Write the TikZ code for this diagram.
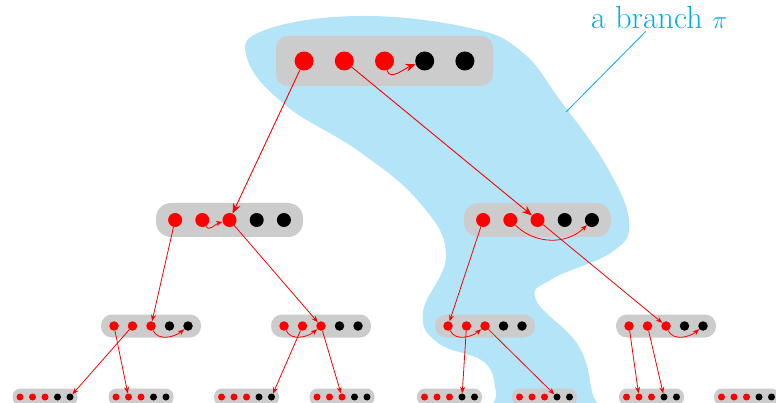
\documentclass[tikz,border=0pt]{standalone}
\usetikzlibrary{positioning}
\usetikzlibrary{arrows.meta}
\definecolor{branchblue}{RGB}{179,228,248}
\definecolor{labelcyan}{RGB}{0,174,239}
\definecolor{boxgray}{RGB}{204,204,204}

% one state: a gray bar with five dots (3 red, 2 black)
\newcommand{\pstate}[5]{%
    \node[box#5] (#1) at (#2,#3) {};
    \foreach \k/\c in {1/red, 2/red, 3/red, 4/black, 5/black} {
        \node[dot#5, fill=\c] (#1-\k) at ({#2+(\k-3)*#4}, #3) {};
    }
}

\tikzset{
    boxbase/.style={fill=boxgray, draw=none, inner sep=0pt},
    dotbase/.style={circle, draw=none, inner sep=0pt},
    boxtop/.style={boxbase, minimum width=217pt, minimum height=50pt, rounded corners=12pt},
    boxmid/.style={boxbase, minimum width=147pt, minimum height=34pt, rounded corners=15pt},
    boxlow/.style={boxbase, minimum width=100pt, minimum height=23pt, rounded corners=11pt},
    boxleaf/.style={boxbase, minimum width=65pt, minimum height=17pt, rounded corners=8pt},
    dottop/.style={dotbase, minimum size=19pt},
    dotmid/.style={dotbase, minimum size=14pt},
    dotlow/.style={dotbase, minimum size=9.5pt},
    dotleaf/.style={dotbase, minimum size=7pt},
    linkbig/.style={red, line width=0.9pt, -{Stealth[length=10pt, width=8pt]}},
    link/.style={red, line width=0.8pt, -{Stealth[length=6.5pt, width=5pt]}},
    leader/.style={labelcyan, line width=0.8pt}
}

\begin{document}
\begin{tikzpicture}[x=1pt, y=-1pt]
    \clip (0,0) rectangle (776,403);

    % the branch
    \fill[branchblue] plot[smooth cycle, tension=0.7] coordinates {
        (247,58) (265,30) (360,16) (470,28) (522,52) (560,100)
        (607,167) (629,222) (612,252) (552,279) (536,300)
        (578,345) (592,392) (594,420) (498,420) (496,392)
        (484,362) (438,343) (423,312) (446,255)
        (420,203) (360,152) (285,105)};

    \node[labelcyan, font=\fontsize{32}{36}\selectfont, inner sep=2pt] (lab) at (659,18) {a branch $\pi$};
    \coordinate (tip) at (566,112);
    \draw[leader] (lab) -- (tip);

    % levels
    \pstate{t}{384.5}{61}{40.2}{top}
    \pstate{a}{229.5}{220}{27.2}{mid}
    \pstate{b}{537.5}{220}{27.2}{mid}
    \pstate{c}{151}{326}{18.5}{low}
    \pstate{d}{321}{326}{18.5}{low}
    \pstate{e}{485}{326}{18.5}{low}
    \pstate{f}{666}{326}{18.5}{low}
    \pstate{g}{45}{397}{12.5}{leaf}
    \pstate{h}{141}{397}{12.5}{leaf}
    \pstate{i}{246.5}{397}{12.5}{leaf}
    \pstate{j}{342}{397}{12.5}{leaf}
    \pstate{k}{449.5}{397}{12.5}{leaf}
    \pstate{l}{544.5}{397}{12.5}{leaf}
    \pstate{m}{651.5}{397}{12.5}{leaf}
    \pstate{n}{746.5}{397}{12.5}{leaf}

    % top
    \draw[linkbig] (t-1) -- (a-3);
    \draw[linkbig] (t-2) -- (b-3);
    \draw[linkbig] (t-3) to[out=-75, in=-160] (t-4);

    % second level
    \draw[link] (a-1) -- (c-3);
    \draw[link] (a-2) to[out=-60, in=-165] (a-3);
    \draw[link] (a-3) -- (d-3);
    \draw[link] (b-1) -- (e-1);
    \draw[link] (b-2) to[out=-45, in=-135] (b-5);
    \draw[link] (b-3) -- (f-3);

    % third level
    \draw[link] (c-1) -- (h-2);
    \draw[link] (c-2) -- (g-5);
    \draw[link] (c-3) to[out=-65, in=-140] (c-5);
    \draw[link] (d-1) to[out=-65, in=-140] (d-3);
    \draw[link] (d-2) -- (i-5);
    \draw[link] (d-3) -- (j-3);
    \draw[link] (e-1) to[out=-65, in=-140] (e-3);
    \draw[link] (e-2) -- (k-4);
    \draw[link] (e-3) -- (l-4);
    \draw[link] (f-1) -- (m-2);
    \draw[link] (f-2) -- (m-4);
    \draw[link] (f-3) to[out=-65, in=-140] (f-5);
\end{tikzpicture}
\end{document}
